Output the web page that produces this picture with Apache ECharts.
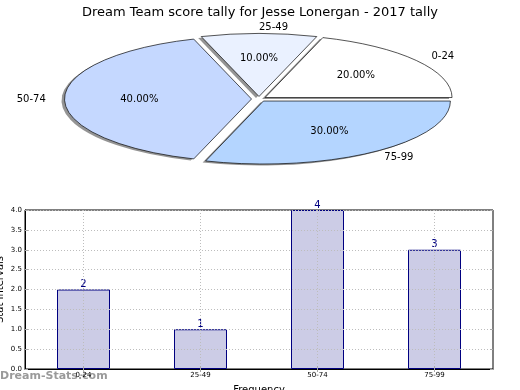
<!DOCTYPE html>
<html>
<head>
<meta charset="utf-8">
<script src="https://cdn.jsdelivr.net/npm/echarts@6/dist/echarts.min.js"></script>
<style>html,body{margin:0;padding:0;background:#fff;}#c{width:520px;height:390px;}</style>
</head>
<body>
<div id="c"></div>
<script>
// ---- data ----
const titleText = 'Dream Team score tally for Jesse Lonergan - 2017 tally';
const pieCategories = ['0-24', '25-49', '50-74', '75-99'];
const pieValues = [2, 1, 4, 3];
const pieColors = ['#ffffff', '#eaf1ff', '#c5d8ff', '#b4d5ff'];
const barCategories = ['0-24', '25-49', '50-74', '75-99'];
const barValues = [2, 1, 4, 3];
const yMin = 0, yMax = 4, yStep = 0.5;

// ---- pie geometry (style) ----
const PCX = 259, PCY = 99, RX = 187, RY = 63, EXPLODE = 0.04;
const FONT = '"DejaVu Sans", sans-serif';

const total = pieValues.reduce((a, b) => a + b, 0);
const cumStart = [];
(function () { let c = 0; pieValues.forEach(v => { cumStart.push(c); c += v / total; }); })();

function renderPie(params, api) {
  const i = params.dataIndex;
  const v = api.value(0);
  const frac = v / total;
  const t1 = cumStart[i];
  const t2 = t1 + frac;
  const a1 = 2 * Math.PI * t1, a2 = 2 * Math.PI * t2;
  const mid = Math.PI * (t1 + t2);
  const ox = PCX + EXPLODE * RX * Math.cos(mid);
  const oy = PCY - EXPLODE * RY * Math.sin(mid);
  const shape = { cx: 0, cy: 0, r0: 0, r: RX, startAngle: -a1, endAngle: -a2, clockwise: false };
  const lx = ox + 1.1 * RX * Math.cos(mid);
  const ly = oy - 1.1 * RY * Math.sin(mid);
  const px = ox + 0.6 * RX * Math.cos(mid);
  const py = oy - 0.6 * RY * Math.sin(mid);
  return {
    type: 'group',
    children: [
      { type: 'sector', x: ox - 3, y: oy + 1.5, scaleY: RY / RX, shape: shape,
        style: { fill: 'rgba(60,60,60,0.55)' } },
      { type: 'sector', x: ox, y: oy, scaleY: RY / RX, shape: shape,
        style: { fill: pieColors[i], stroke: '#000', lineWidth: 1, strokeNoScale: true } },
      { type: 'text', x: lx, y: ly,
        style: { text: pieCategories[i], fill: '#000', font: '10px ' + FONT,
                 align: Math.cos(mid) > 0 ? 'left' : 'right', verticalAlign: 'middle' } },
      { type: 'text', x: px, y: py,
        style: { text: (frac * 100).toFixed(2) + '%', fill: '#000', font: '10px ' + FONT,
                 align: 'center', verticalAlign: 'middle' } }
    ]
  };
}

const chart = echarts.init(document.getElementById('c'), null, { renderer: 'canvas' });
const gridLine = { show: true, lineStyle: { color: '#bdbdbd', type: [1, 2], width: 1 } };
chart.setOption({
  animation: false,
  backgroundColor: '#fff',
  title: {
    text: titleText, left: 'center', top: 1,
    textStyle: { fontFamily: FONT, fontSize: 13, fontWeight: 'normal', color: '#000' }
  },
  graphic: [{
    type: 'text', left: 0, top: 371,
    style: { text: 'Dream-Stats.com', fill: '#9a9a9a', font: 'bold 11px ' + FONT }
  }],
  grid: { left: 25, right: 27, top: 210, bottom: 21, show: true, borderColor: '#000', borderWidth: 1,
          backgroundColor: 'transparent', outerBoundsMode: 'none', containLabel: false },
  xAxis: [{
    type: 'category', data: barCategories, position: 'bottom', z: 3,
    name: 'Frequency', nameLocation: 'middle', nameGap: 16, nameMoveOverlap: false,
    nameTextStyle: { fontFamily: FONT, fontSize: 10, color: '#000' },
    axisLine: { show: true, lineStyle: { color: '#000', width: 1 } },
    axisTick: { show: true, inside: true, alignWithLabel: true, length: 3, lineStyle: { color: '#aaa' } },
    axisLabel: { fontFamily: FONT, fontSize: 7, color: '#000', margin: 3 },
    splitLine: Object.assign({ alignWithLabel: true }, gridLine)
  }, {
    type: 'category', data: barCategories, position: 'top', z: 3,
    axisLine: { show: false },
    axisTick: { show: true, inside: true, alignWithLabel: true, length: 3, lineStyle: { color: '#aaa' } },
    axisLabel: { show: false }, splitLine: { show: false }
  }],
  yAxis: [{
    type: 'value', min: yMin, max: yMax, interval: yStep, z: 3,
    name: 'Stat Intervals', nameLocation: 'middle', nameGap: 20, nameMoveOverlap: false,
    nameTextStyle: { fontFamily: FONT, fontSize: 10, color: '#000' },
    axisLine: { show: true, lineStyle: { color: '#000', width: 1 } },
    axisTick: { show: true, inside: true, length: 3, lineStyle: { color: '#aaa' } },
    axisLabel: { fontFamily: FONT, fontSize: 7, color: '#000', margin: 3, formatter: v => v.toFixed(1) },
    splitLine: gridLine
  }, {
    type: 'value', min: yMin, max: yMax, interval: yStep, position: 'right', z: 3,
    axisLine: { show: false },
    axisTick: { show: true, inside: true, length: 3, lineStyle: { color: '#aaa' } },
    axisLabel: { show: false }, splitLine: { show: false }
  }],
  series: [{
    type: 'custom', coordinateSystem: 'none', renderItem: renderPie,
    data: pieValues.map((v, i) => ({ value: [v, i], name: pieCategories[i] })), z: 1
  }, {
    type: 'bar', xAxisIndex: 0, yAxisIndex: 0, data: barValues, barWidth: 53, z: 1,
    itemStyle: { color: '#ccccE6', borderColor: '#000080', borderWidth: 1 },
    label: { show: true, position: 'top', distance: 0, color: '#000080', fontFamily: FONT, fontSize: 10 }
  }]
});
</script>
</body>
</html>
